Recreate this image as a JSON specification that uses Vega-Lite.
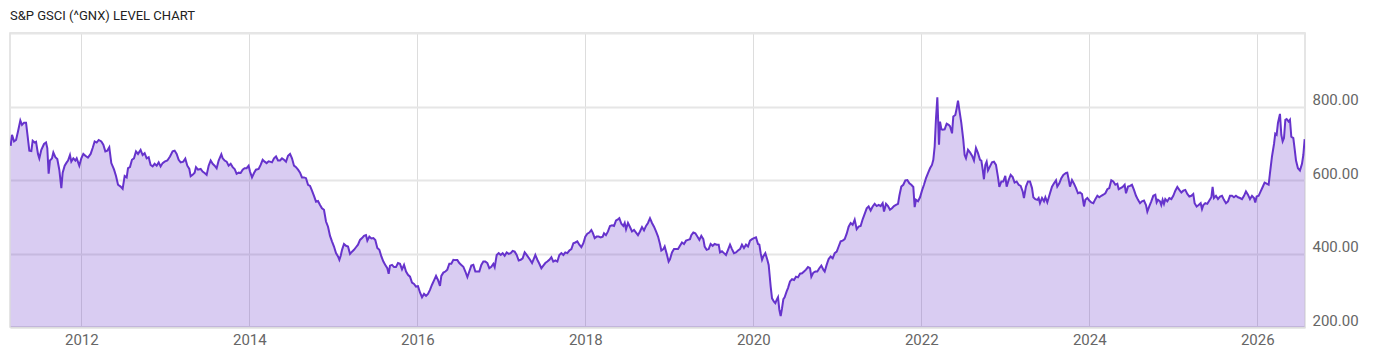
{
  "$schema": "https://vega.github.io/schema/vega-lite/v6.json",
  "width": 1295,
  "height": 294,
  "autosize": {"type": "none"},
  "padding": {"left": 10, "top": 33, "right": 95, "bottom": 30},
  "background": "white",
  "title": {
    "text": "S&P GSCI (^GNX) LEVEL CHART",
    "anchor": "start",
    "frame": "group",
    "offset": 10,
    "font": "Liberation Sans Narrow, Roboto, sans-serif",
    "fontSize": 13,
    "fontWeight": "normal",
    "color": "#222222"
  },
  "config": {
    "view": {"stroke": "#dddddd", "strokeWidth": 1.5},
    "axis": {
      "labelFont": "Liberation Sans Narrow, Roboto, sans-serif",
      "labelFontSize": 15,
      "labelColor": "#666666",
      "ticks": false,
      "title": null
    }
  },
  "data": {"values": [
{"t":2011.159,"v":693},{"t":2011.175,"v":723},{"t":2011.199,"v":705},{"t":2011.223,"v":709},{"t":2011.246,"v":732},{"t":2011.274,"v":762},{"t":2011.294,"v":750},{"t":2011.318,"v":756},{"t":2011.342,"v":756},{"t":2011.357,"v":727},{"t":2011.381,"v":680},{"t":2011.405,"v":679},{"t":2011.421,"v":707},{"t":2011.445,"v":702},{"t":2011.461,"v":704},{"t":2011.484,"v":671},{"t":2011.500,"v":659},{"t":2011.524,"v":682},{"t":2011.556,"v":698},{"t":2011.580,"v":702},{"t":2011.595,"v":687},{"t":2011.611,"v":617},{"t":2011.627,"v":653},{"t":2011.651,"v":659},{"t":2011.667,"v":675},{"t":2011.691,"v":662},{"t":2011.714,"v":657},{"t":2011.738,"v":628},{"t":2011.762,"v":578},{"t":2011.778,"v":620},{"t":2011.802,"v":639},{"t":2011.826,"v":648},{"t":2011.842,"v":653},{"t":2011.865,"v":668},{"t":2011.881,"v":650},{"t":2011.905,"v":659},{"t":2011.929,"v":653},{"t":2011.945,"v":659},{"t":2011.976,"v":639},{"t":2012.000,"v":659},{"t":2012.024,"v":671},{"t":2012.048,"v":666},{"t":2012.079,"v":661},{"t":2012.111,"v":671},{"t":2012.135,"v":687},{"t":2012.159,"v":705},{"t":2012.183,"v":702},{"t":2012.207,"v":709},{"t":2012.238,"v":705},{"t":2012.262,"v":696},{"t":2012.286,"v":678},{"t":2012.310,"v":680},{"t":2012.333,"v":689},{"t":2012.357,"v":646},{"t":2012.389,"v":629},{"t":2012.413,"v":611},{"t":2012.437,"v":587},{"t":2012.468,"v":582},{"t":2012.492,"v":576},{"t":2012.516,"v":611},{"t":2012.540,"v":607},{"t":2012.556,"v":632},{"t":2012.579,"v":635},{"t":2012.603,"v":655},{"t":2012.627,"v":659},{"t":2012.651,"v":678},{"t":2012.675,"v":671},{"t":2012.706,"v":682},{"t":2012.730,"v":668},{"t":2012.754,"v":673},{"t":2012.778,"v":659},{"t":2012.802,"v":662},{"t":2012.825,"v":641},{"t":2012.849,"v":637},{"t":2012.873,"v":644},{"t":2012.897,"v":639},{"t":2012.921,"v":648},{"t":2012.944,"v":637},{"t":2012.968,"v":646},{"t":2012.992,"v":650},{"t":2013.024,"v":653},{"t":2013.056,"v":664},{"t":2013.087,"v":678},{"t":2013.111,"v":680},{"t":2013.135,"v":671},{"t":2013.159,"v":655},{"t":2013.183,"v":648},{"t":2013.214,"v":650},{"t":2013.238,"v":658},{"t":2013.262,"v":639},{"t":2013.286,"v":630},{"t":2013.302,"v":610},{"t":2013.325,"v":614},{"t":2013.349,"v":620},{"t":2013.365,"v":635},{"t":2013.389,"v":628},{"t":2013.421,"v":630},{"t":2013.444,"v":623},{"t":2013.468,"v":619},{"t":2013.492,"v":614},{"t":2013.516,"v":639},{"t":2013.540,"v":653},{"t":2013.564,"v":644},{"t":2013.587,"v":639},{"t":2013.611,"v":632},{"t":2013.635,"v":653},{"t":2013.667,"v":670},{"t":2013.683,"v":659},{"t":2013.706,"v":653},{"t":2013.730,"v":650},{"t":2013.754,"v":639},{"t":2013.778,"v":644},{"t":2013.802,"v":635},{"t":2013.825,"v":630},{"t":2013.849,"v":617},{"t":2013.873,"v":620},{"t":2013.897,"v":619},{"t":2013.921,"v":628},{"t":2013.944,"v":632},{"t":2013.968,"v":632},{"t":2013.992,"v":639},{"t":2014.008,"v":623},{"t":2014.032,"v":607},{"t":2014.056,"v":619},{"t":2014.079,"v":628},{"t":2014.111,"v":630},{"t":2014.135,"v":641},{"t":2014.159,"v":655},{"t":2014.183,"v":650},{"t":2014.206,"v":646},{"t":2014.230,"v":651},
{"t":2014.246,"v":650},{"t":2014.270,"v":648},{"t":2014.294,"v":659},{"t":2014.318,"v":664},{"t":2014.342,"v":653},{"t":2014.366,"v":653},{"t":2014.389,"v":659},{"t":2014.413,"v":655},{"t":2014.437,"v":650},{"t":2014.461,"v":666},{"t":2014.485,"v":671},{"t":2014.508,"v":659},{"t":2014.532,"v":639},{"t":2014.556,"v":635},{"t":2014.580,"v":628},{"t":2014.604,"v":620},{"t":2014.627,"v":607},{"t":2014.651,"v":607},{"t":2014.675,"v":605},{"t":2014.699,"v":587},{"t":2014.723,"v":584},{"t":2014.746,"v":571},{"t":2014.770,"v":557},{"t":2014.794,"v":541},{"t":2014.818,"v":543},{"t":2014.842,"v":532},{"t":2014.865,"v":523},{"t":2014.889,"v":519},{"t":2014.913,"v":487},{"t":2014.937,"v":473},{"t":2014.961,"v":448},{"t":2014.984,"v":433},{"t":2015.008,"v":419},{"t":2015.032,"v":401},{"t":2015.056,"v":392},{"t":2015.072,"v":383},{"t":2015.088,"v":394},{"t":2015.104,"v":410},{"t":2015.127,"v":426},{"t":2015.151,"v":421},{"t":2015.175,"v":419},{"t":2015.199,"v":399},{"t":2015.223,"v":405},{"t":2015.246,"v":410},{"t":2015.270,"v":417},{"t":2015.294,"v":424},{"t":2015.318,"v":437},{"t":2015.342,"v":442},{"t":2015.365,"v":448},{"t":2015.389,"v":450},{"t":2015.405,"v":435},{"t":2015.429,"v":446},{"t":2015.453,"v":441},{"t":2015.477,"v":442},{"t":2015.500,"v":437},{"t":2015.524,"v":415},{"t":2015.548,"v":410},{"t":2015.572,"v":392},{"t":2015.596,"v":378},{"t":2015.619,"v":369},{"t":2015.643,"v":360},{"t":2015.659,"v":345},{"t":2015.675,"v":367},{"t":2015.699,"v":369},{"t":2015.723,"v":363},{"t":2015.746,"v":363},{"t":2015.770,"v":374},{"t":2015.794,"v":372},{"t":2015.818,"v":357},{"t":2015.842,"v":369},{"t":2015.866,"v":351},{"t":2015.889,"v":342},{"t":2015.913,"v":337},{"t":2015.937,"v":321},{"t":2015.961,"v":317},{"t":2015.984,"v":310},{"t":2016.008,"v":311},{"t":2016.032,"v":294},{"t":2016.056,"v":281},{"t":2016.080,"v":290},{"t":2016.104,"v":285},{"t":2016.127,"v":290},{"t":2016.151,"v":301},{"t":2016.175,"v":315},{"t":2016.199,"v":327},{"t":2016.223,"v":339},{"t":2016.246,"v":328},{"t":2016.270,"v":312},{"t":2016.286,"v":339},{"t":2016.310,"v":348},{"t":2016.334,"v":351},{"t":2016.357,"v":356},{"t":2016.381,"v":372},{"t":2016.405,"v":372},{"t":2016.429,"v":383},{"t":2016.453,"v":382},{"t":2016.477,"v":382},{"t":2016.500,"v":374},{"t":2016.524,"v":369},{"t":2016.548,"v":364},{"t":2016.572,"v":351},{"t":2016.596,"v":336},{"t":2016.619,"v":351},{"t":2016.643,"v":367},{"t":2016.667,"v":369},{"t":2016.691,"v":351},{"t":2016.715,"v":351},{"t":2016.738,"v":351},{"t":2016.762,"v":369},{"t":2016.786,"v":378},{"t":2016.810,"v":378},{"t":2016.834,"v":374},{"t":2016.857,"v":360},{"t":2016.881,"v":364},{"t":2016.905,"v":372},{"t":2016.921,"v":363},{"t":2016.945,"v":396},{"t":2016.969,"v":401},{"t":2016.993,"v":396},{"t":2017.016,"v":401},{"t":2017.040,"v":394},{"t":2017.064,"v":403},{"t":2017.088,"v":399},{"t":2017.112,"v":401},{"t":2017.135,"v":407},{"t":2017.159,"v":405},{"t":2017.183,"v":396},{"t":2017.207,"v":381},{"t":2017.231,"v":383},{"t":2017.254,"v":387},{"t":2017.278,"v":403},{"t":2017.302,"v":396},
{"t":2017.342,"v":383},{"t":2017.366,"v":374},{"t":2017.389,"v":387},{"t":2017.405,"v":396},{"t":2017.429,"v":383},{"t":2017.453,"v":372},{"t":2017.477,"v":360},{"t":2017.500,"v":367},{"t":2017.524,"v":374},{"t":2017.548,"v":378},{"t":2017.572,"v":383},{"t":2017.596,"v":390},{"t":2017.619,"v":378},{"t":2017.643,"v":381},{"t":2017.667,"v":378},{"t":2017.691,"v":396},{"t":2017.715,"v":401},{"t":2017.739,"v":396},{"t":2017.762,"v":403},{"t":2017.786,"v":401},{"t":2017.810,"v":408},{"t":2017.834,"v":412},{"t":2017.858,"v":428},{"t":2017.881,"v":430},{"t":2017.905,"v":433},{"t":2017.929,"v":424},{"t":2017.953,"v":417},{"t":2017.977,"v":428},{"t":2018.000,"v":446},{"t":2018.024,"v":454},{"t":2018.048,"v":457},{"t":2018.072,"v":464},{"t":2018.088,"v":457},{"t":2018.112,"v":442},{"t":2018.135,"v":446},{"t":2018.159,"v":446},{"t":2018.183,"v":444},{"t":2018.207,"v":446},{"t":2018.223,"v":455},{"t":2018.246,"v":450},{"t":2018.270,"v":460},{"t":2018.294,"v":475},{"t":2018.318,"v":477},{"t":2018.342,"v":475},{"t":2018.366,"v":490},{"t":2018.389,"v":493},{"t":2018.405,"v":496},{"t":2018.429,"v":481},{"t":2018.453,"v":475},{"t":2018.469,"v":483},{"t":2018.485,"v":466},{"t":2018.508,"v":483},{"t":2018.532,"v":472},{"t":2018.556,"v":460},{"t":2018.580,"v":464},{"t":2018.604,"v":457},{"t":2018.627,"v":450},{"t":2018.651,"v":460},{"t":2018.675,"v":472},{"t":2018.699,"v":463},{"t":2018.723,"v":475},{"t":2018.746,"v":483},{"t":2018.770,"v":496},{"t":2018.794,"v":483},{"t":2018.818,"v":473},{"t":2018.842,"v":460},{"t":2018.866,"v":446},{"t":2018.889,"v":426},{"t":2018.905,"v":408},{"t":2018.929,"v":412},{"t":2018.945,"v":419},{"t":2018.969,"v":399},{"t":2018.992,"v":378},{"t":2019.008,"v":384},{"t":2019.032,"v":403},{"t":2019.056,"v":412},{"t":2019.080,"v":412},{"t":2019.104,"v":412},{"t":2019.127,"v":421},{"t":2019.151,"v":430},{"t":2019.175,"v":426},{"t":2019.199,"v":435},{"t":2019.223,"v":437},{"t":2019.246,"v":439},{"t":2019.262,"v":450},{"t":2019.286,"v":457},{"t":2019.310,"v":455},{"t":2019.334,"v":446},{"t":2019.358,"v":437},{"t":2019.381,"v":448},{"t":2019.405,"v":439},{"t":2019.421,"v":419},{"t":2019.445,"v":410},{"t":2019.469,"v":412},{"t":2019.492,"v":426},{"t":2019.516,"v":421},{"t":2019.540,"v":426},{"t":2019.564,"v":424},{"t":2019.588,"v":424},{"t":2019.604,"v":403},{"t":2019.627,"v":406},{"t":2019.651,"v":401},{"t":2019.675,"v":396},{"t":2019.699,"v":410},{"t":2019.723,"v":424},{"t":2019.746,"v":412},{"t":2019.770,"v":401},{"t":2019.794,"v":403},{"t":2019.818,"v":408},{"t":2019.842,"v":412},{"t":2019.865,"v":424},{"t":2019.889,"v":415},{"t":2019.913,"v":424},{"t":2019.937,"v":419},{"t":2019.961,"v":435},{"t":2019.985,"v":439},{"t":2020.008,"v":442},{"t":2020.032,"v":444},{"t":2020.056,"v":426},{"t":2020.072,"v":424},{"t":2020.088,"v":401},{"t":2020.104,"v":383},{"t":2020.119,"v":392},{"t":2020.143,"v":401},{"t":2020.167,"v":383},{"t":2020.183,"v":369},{"t":2020.207,"v":310},{"t":2020.223,"v":278},{"t":2020.246,"v":269},{"t":2020.262,"v":265},{"t":2020.278,"v":274},{"t":2020.294,"v":281},{"t":2020.310,"v":247},{"t":2020.326,"v":230},{"t":2020.342,"v":251},{"t":2020.358,"v":276},{"t":2020.373,"v":281},{"t":2020.397,"v":297},
{"t":2020.413,"v":306},{"t":2020.437,"v":324},{"t":2020.461,"v":330},{"t":2020.485,"v":328},{"t":2020.508,"v":337},{"t":2020.532,"v":335},{"t":2020.556,"v":345},{"t":2020.580,"v":346},{"t":2020.604,"v":351},{"t":2020.627,"v":356},{"t":2020.651,"v":363},{"t":2020.675,"v":360},{"t":2020.691,"v":337},{"t":2020.715,"v":348},{"t":2020.739,"v":351},{"t":2020.762,"v":351},{"t":2020.786,"v":360},{"t":2020.810,"v":367},{"t":2020.834,"v":356},{"t":2020.850,"v":351},{"t":2020.873,"v":369},{"t":2020.897,"v":385},{"t":2020.921,"v":392},{"t":2020.945,"v":387},{"t":2020.969,"v":401},{"t":2020.993,"v":405},{"t":2021.016,"v":419},{"t":2021.040,"v":433},{"t":2021.064,"v":435},{"t":2021.088,"v":439},{"t":2021.112,"v":454},{"t":2021.135,"v":473},{"t":2021.159,"v":483},{"t":2021.183,"v":478},{"t":2021.207,"v":492},{"t":2021.231,"v":466},{"t":2021.254,"v":473},{"t":2021.278,"v":475},{"t":2021.302,"v":493},{"t":2021.326,"v":508},{"t":2021.350,"v":523},{"t":2021.373,"v":528},{"t":2021.397,"v":517},{"t":2021.421,"v":528},{"t":2021.445,"v":535},{"t":2021.469,"v":529},{"t":2021.493,"v":532},{"t":2021.516,"v":529},{"t":2021.540,"v":537},{"t":2021.556,"v":514},{"t":2021.580,"v":535},{"t":2021.604,"v":529},{"t":2021.627,"v":519},{"t":2021.651,"v":523},{"t":2021.675,"v":529},{"t":2021.699,"v":532},{"t":2021.723,"v":535},{"t":2021.739,"v":557},{"t":2021.762,"v":582},{"t":2021.786,"v":587},{"t":2021.810,"v":599},{"t":2021.834,"v":600},{"t":2021.858,"v":591},{"t":2021.881,"v":587},{"t":2021.905,"v":581},{"t":2021.921,"v":526},{"t":2021.937,"v":546},{"t":2021.961,"v":542},{"t":2021.985,"v":553},{"t":2022.008,"v":571},{"t":2022.032,"v":587},{"t":2022.056,"v":605},{"t":2022.080,"v":619},{"t":2022.104,"v":632},{"t":2022.127,"v":641},{"t":2022.143,"v":655},{"t":2022.159,"v":691},{"t":2022.175,"v":768},{"t":2022.191,"v":825},{"t":2022.199,"v":773},{"t":2022.211,"v":696},{"t":2022.223,"v":759},{"t":2022.239,"v":738},{"t":2022.254,"v":737},{"t":2022.278,"v":738},{"t":2022.302,"v":753},{"t":2022.326,"v":750},{"t":2022.342,"v":746},{"t":2022.366,"v":727},{"t":2022.381,"v":773},{"t":2022.405,"v":777},{"t":2022.421,"v":795},{"t":2022.437,"v":816},{"t":2022.453,"v":791},{"t":2022.476,"v":756},{"t":2022.500,"v":709},{"t":2022.516,"v":668},{"t":2022.532,"v":659},{"t":2022.556,"v":682},{"t":2022.580,"v":675},{"t":2022.604,"v":666},{"t":2022.627,"v":653},{"t":2022.651,"v":687},{"t":2022.675,"v":673},{"t":2022.699,"v":655},{"t":2022.715,"v":653},{"t":2022.730,"v":630},{"t":2022.746,"v":602},{"t":2022.762,"v":641},{"t":2022.778,"v":650},{"t":2022.794,"v":626},{"t":2022.818,"v":637},{"t":2022.842,"v":648},{"t":2022.865,"v":650},{"t":2022.889,"v":641},{"t":2022.913,"v":608},{"t":2022.929,"v":581},{"t":2022.953,"v":596},{"t":2022.976,"v":596},{"t":2023.000,"v":611},{"t":2023.016,"v":582},{"t":2023.040,"v":600},{"t":2023.064,"v":614},{"t":2023.088,"v":608},{"t":2023.111,"v":593},{"t":2023.135,"v":596},{"t":2023.159,"v":587},{"t":2023.183,"v":584},{"t":2023.207,"v":569},{"t":2023.222,"v":551},{"t":2023.246,"v":582},{"t":2023.270,"v":596},{"t":2023.294,"v":596},{"t":2023.318,"v":578},{"t":2023.334,"v":553},{"t":2023.357,"v":548},{"t":2023.381,"v":546},{"t":2023.397,"v":551},{"t":2023.413,"v":537},{"t":2023.437,"v":551},{"t":2023.461,"v":542},{"t":2023.477,"v":553},{"t":2023.500,"v":539},
{"t":2023.532,"v":564},{"t":2023.556,"v":582},{"t":2023.580,"v":591},{"t":2023.604,"v":599},{"t":2023.619,"v":582},{"t":2023.643,"v":591},{"t":2023.667,"v":605},{"t":2023.691,"v":614},{"t":2023.723,"v":619},{"t":2023.738,"v":620},{"t":2023.754,"v":602},{"t":2023.770,"v":582},{"t":2023.794,"v":600},{"t":2023.818,"v":590},{"t":2023.842,"v":578},{"t":2023.865,"v":564},{"t":2023.889,"v":566},{"t":2023.913,"v":562},{"t":2023.937,"v":528},{"t":2023.953,"v":546},{"t":2023.977,"v":551},{"t":2024.000,"v":544},{"t":2024.024,"v":539},{"t":2024.048,"v":537},{"t":2024.072,"v":548},{"t":2024.096,"v":557},{"t":2024.119,"v":553},{"t":2024.143,"v":557},{"t":2024.167,"v":560},{"t":2024.191,"v":564},{"t":2024.215,"v":575},{"t":2024.238,"v":578},{"t":2024.262,"v":599},{"t":2024.286,"v":596},{"t":2024.310,"v":587},{"t":2024.334,"v":590},{"t":2024.350,"v":575},{"t":2024.373,"v":578},{"t":2024.397,"v":581},{"t":2024.421,"v":587},{"t":2024.437,"v":564},{"t":2024.461,"v":582},{"t":2024.485,"v":584},{"t":2024.508,"v":587},{"t":2024.532,"v":573},{"t":2024.556,"v":557},{"t":2024.580,"v":546},{"t":2024.604,"v":537},{"t":2024.627,"v":542},{"t":2024.651,"v":544},{"t":2024.675,"v":532},{"t":2024.691,"v":514},{"t":2024.715,"v":529},{"t":2024.738,"v":542},{"t":2024.762,"v":557},{"t":2024.786,"v":560},{"t":2024.802,"v":539},{"t":2024.818,"v":546},{"t":2024.842,"v":542},{"t":2024.857,"v":532},{"t":2024.873,"v":546},{"t":2024.889,"v":535},{"t":2024.905,"v":548},{"t":2024.929,"v":542},{"t":2024.953,"v":551},{"t":2024.977,"v":548},{"t":2025.000,"v":557},{"t":2025.024,"v":571},{"t":2025.048,"v":581},{"t":2025.072,"v":573},{"t":2025.096,"v":566},{"t":2025.119,"v":571},{"t":2025.143,"v":573},{"t":2025.167,"v":562},{"t":2025.191,"v":555},{"t":2025.215,"v":557},{"t":2025.238,"v":562},{"t":2025.254,"v":537},{"t":2025.278,"v":528},{"t":2025.302,"v":532},{"t":2025.326,"v":537},{"t":2025.342,"v":521},{"t":2025.358,"v":532},{"t":2025.381,"v":537},{"t":2025.405,"v":535},{"t":2025.429,"v":544},{"t":2025.453,"v":553},{"t":2025.468,"v":581},{"t":2025.484,"v":551},{"t":2025.508,"v":557},{"t":2025.532,"v":548},{"t":2025.556,"v":555},{"t":2025.580,"v":557},{"t":2025.603,"v":546},{"t":2025.627,"v":537},{"t":2025.651,"v":542},{"t":2025.675,"v":557},{"t":2025.699,"v":557},{"t":2025.722,"v":553},{"t":2025.746,"v":557},{"t":2025.770,"v":553},{"t":2025.794,"v":551},{"t":2025.818,"v":548},{"t":2025.842,"v":557},{"t":2025.865,"v":569},{"t":2025.889,"v":560},{"t":2025.913,"v":548},{"t":2025.937,"v":557},{"t":2025.961,"v":551},{"t":2025.976,"v":539},{"t":2025.992,"v":555},{"t":2026.016,"v":557},{"t":2026.040,"v":569},{"t":2026.064,"v":581},{"t":2026.087,"v":593},{"t":2026.111,"v":590},{"t":2026.135,"v":587},{"t":2026.151,"v":619},{"t":2026.175,"v":664},{"t":2026.199,"v":698},{"t":2026.214,"v":726},{"t":2026.230,"v":723},{"t":2026.246,"v":755},{"t":2026.270,"v":780},{"t":2026.286,"v":723},{"t":2026.302,"v":705},{"t":2026.318,"v":714},{"t":2026.334,"v":764},{"t":2026.349,"v":766},{"t":2026.373,"v":759},{"t":2026.389,"v":764},{"t":2026.405,"v":718},{"t":2026.429,"v":714},{"t":2026.445,"v":684},{"t":2026.461,"v":653},{"t":2026.484,"v":632},{"t":2026.508,"v":626},{"t":2026.532,"v":644},{"t":2026.548,"v":668},{"t":2026.564,"v":711}
  ]},
  "encoding": {
    "x": {
      "field": "t",
      "type": "quantitative",
      "scale": {"domain": [2011.151, 2026.568], "nice": false, "zero": false},
      "axis": {
        "values": [2012, 2014, 2016, 2018, 2020, 2022, 2024, 2026],
        "format": "d",
        "grid": true,
        "gridColor": "#dddddd",
        "gridWidth": 1,
        "domain": true,
        "domainColor": "#dddddd",
        "domainWidth": 2,
        "labelPadding": 5
      }
    },
    "y": {
      "field": "v",
      "type": "quantitative",
      "scale": {"domain": [200, 1000], "nice": false, "zero": false},
      "axis": {
        "orient": "right",
        "values": [200, 400, 600, 800, 1000],
        "labelExpr": "datum.value >= 1000 ? '' : format(datum.value, '.2f')",
        "grid": true,
        "gridColor": "#e6e6e6",
        "gridWidth": 2,
        "domain": false,
        "labelPadding": 7,
        "labelBaseline": "alphabetic",
        "labelOffset": -2
      }
    }
  },
  "layer": [
    {"mark": {"type": "area", "color": "#6633cc", "fillOpacity": 0.25, "clip": true}},
    {"mark": {"type": "line", "color": "#6633cc", "strokeWidth": 2, "clip": true}}
  ]
}
